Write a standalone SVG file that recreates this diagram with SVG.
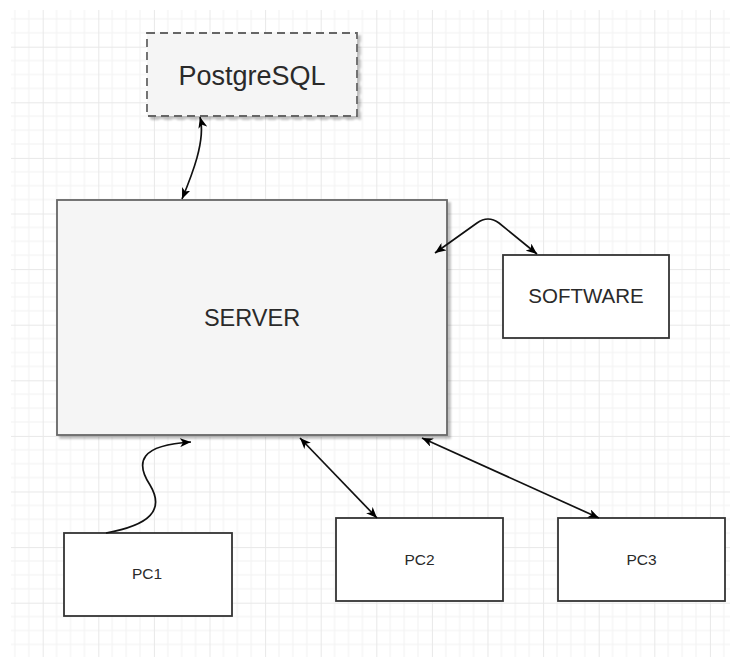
<svg xmlns="http://www.w3.org/2000/svg" width="730" height="657" viewBox="0 0 730 657">
<defs>
<pattern id="grid" patternUnits="userSpaceOnUse" x="42.7" y="46.7" width="55.6" height="55.6">
<path d="M13.9,0 V55.6 M27.8,0 V55.6 M41.7,0 V55.6 M0,13.9 H55.6 M0,27.8 H55.6 M0,41.7 H55.6" stroke="#f2f2f2" stroke-width="1" fill="none"/>
<path d="M0.5,0 V55.6 M0,0.5 H55.6" stroke="#e8e8e8" stroke-width="1" fill="none"/>
</pattern>
<marker id="arr" viewBox="0 0 11 9" refX="11" refY="4.5" markerWidth="11" markerHeight="9" markerUnits="userSpaceOnUse" orient="auto-start-reverse">
<path d="M0,0 L11,4.5 L0,9 L3,4.5 z" fill="#000"/>
</marker>
<filter id="sh" x="-5%" y="-5%" width="115%" height="115%">
<feGaussianBlur in="SourceAlpha" stdDeviation="1.2"/>
<feOffset dx="3" dy="3" result="b"/>
<feComponentTransfer><feFuncA type="linear" slope="0.25"/></feComponentTransfer>
<feMerge><feMergeNode/><feMergeNode in="SourceGraphic"/></feMerge>
</filter>
</defs>
<style>
.gray{fill:#f5f5f5;stroke:#666;stroke-width:1.8}
.white{fill:#fff;stroke:#333;stroke-width:1.8}
.t{font-family:"Liberation Sans",Arial,sans-serif;fill:#2a2a2a;text-anchor:middle}
.c{fill:none;stroke:#111;stroke-width:1.7}
</style>
<rect width="730" height="657" fill="#fff"/>
<rect x="11" y="10" width="719" height="647" fill="url(#grid)"/>

<g id="postgresql">
<rect class="gray" x="147" y="33" width="210" height="83" stroke-dasharray="8,5" filter="url(#sh)"/>
<text class="t" x="252" y="85" font-size="27">PostgreSQL</text>
</g>
<g id="server">
<rect class="gray" x="57" y="200" width="390" height="235" filter="url(#sh)"/>
<text class="t" x="252" y="326" font-size="23.5">SERVER</text>
</g>
<g id="software">
<rect class="white" x="503" y="255" width="166" height="83"/>
<text class="t" x="586" y="303" font-size="20.5">SOFTWARE</text>
</g>
<g id="pc1">
<rect class="white" x="64" y="533" width="168" height="83"/>
<text class="t" x="147" y="579" font-size="15.5">PC1</text>
</g>
<g id="pc2">
<rect class="white" x="336" y="518" width="167" height="83"/>
<text class="t" x="419.5" y="565" font-size="15.5">PC2</text>
</g>
<g id="pc3">
<rect class="white" x="558" y="518" width="167" height="83"/>
<text class="t" x="641.5" y="565" font-size="15.5">PC3</text>
</g>

<g id="connectors">
<path class="c" d="M200,117 C206,140 192,175 182,199" marker-start="url(#arr)" marker-end="url(#arr)"/>
<path class="c" d="M435,253 L477,223 Q488,215 499,223 L537,254" marker-start="url(#arr)" marker-end="url(#arr)"/>
<path class="c" d="M106,533 C150,525 165,510 150,485 C135,462 140,445 191,442" marker-end="url(#arr)"/>
<path class="c" d="M300,438 L377,518" marker-start="url(#arr)" marker-end="url(#arr)"/>
<path class="c" d="M422,438 L599,518" marker-start="url(#arr)" marker-end="url(#arr)"/>
</g>
</svg>
